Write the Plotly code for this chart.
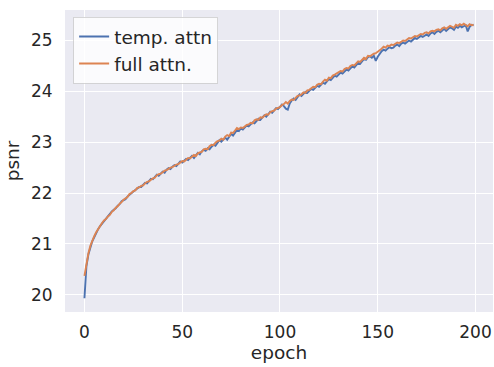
import plotly.graph_objects as go

epochs = list(range(200))

temp_attn = [
    19.93, 20.56, 20.79, 20.94, 21.05, 21.13, 21.22, 21.29, 21.35, 21.40,
    21.45, 21.50, 21.53, 21.58, 21.64, 21.67, 21.70, 21.75, 21.78, 21.84,
    21.86, 21.88, 21.93, 21.97, 22.01, 22.03, 22.06, 22.09, 22.12, 22.12,
    22.17, 22.20, 22.19, 22.24, 22.28, 22.27, 22.31, 22.36, 22.34, 22.39,
    22.42, 22.40, 22.46, 22.49, 22.47, 22.52, 22.55, 22.53, 22.58, 22.62,
    22.60, 22.64, 22.67, 22.65, 22.70, 22.73, 22.69, 22.75, 22.79, 22.76,
    22.82, 22.85, 22.83, 22.88, 22.86, 22.91, 22.95, 22.93, 22.99, 23.04,
    23.01, 23.06, 23.09, 23.05, 23.12, 23.16, 23.13, 23.20, 23.24, 23.22,
    23.27, 23.25, 23.30, 23.33, 23.31, 23.36, 23.39, 23.37, 23.42, 23.46,
    23.44, 23.49, 23.53, 23.50, 23.56, 23.60, 23.58, 23.63, 23.67, 23.65,
    23.70, 23.74, 23.71, 23.66, 23.64, 23.76, 23.82, 23.86, 23.83, 23.90,
    23.94, 23.91, 23.96, 23.99, 23.97, 24.02, 24.05, 24.03, 24.08, 24.11,
    24.09, 24.14, 24.17, 24.15, 24.20, 24.24, 24.22, 24.27, 24.31, 24.29,
    24.34, 24.37, 24.35, 24.40, 24.43, 24.41, 24.46, 24.49, 24.47, 24.52,
    24.56, 24.54, 24.60, 24.64, 24.62, 24.67, 24.69, 24.66, 24.70, 24.60,
    24.68, 24.75, 24.79, 24.82, 24.80, 24.84, 24.87, 24.85, 24.86, 24.90,
    24.92, 24.89, 24.94, 24.96, 24.94, 24.97, 25.00, 24.98, 25.02, 25.05,
    25.03, 25.06, 25.09, 25.07, 25.10, 25.12, 25.09, 25.14, 25.16, 25.13,
    25.17, 25.19, 25.16, 25.20, 25.23, 25.19, 25.22, 25.26, 25.24, 25.21,
    25.27, 25.25, 25.29, 25.26, 25.28, 25.30, 25.18, 25.27, 25.31, 25.30,
]

full_attn = [
    20.37, 20.63, 20.81, 20.96, 21.07, 21.15, 21.23, 21.30, 21.36, 21.41,
    21.46, 21.49, 21.54, 21.57, 21.63, 21.66, 21.71, 21.74, 21.79, 21.82,
    21.87, 21.90, 21.92, 21.98, 22.00, 22.04, 22.05, 22.10, 22.11, 22.14,
    22.15, 22.19, 22.22, 22.23, 22.27, 22.29, 22.30, 22.35, 22.37, 22.38,
    22.41, 22.44, 22.45, 22.48, 22.50, 22.51, 22.54, 22.56, 22.57, 22.60,
    22.63, 22.62, 22.66, 22.69, 22.68, 22.72, 22.75, 22.73, 22.78, 22.80,
    22.81, 22.86, 22.87, 22.86, 22.92, 22.95, 22.94, 22.99, 23.02, 23.03,
    23.07, 23.05, 23.11, 23.14, 23.12, 23.19, 23.18, 23.23, 23.28, 23.26,
    23.29, 23.28, 23.32, 23.34, 23.35, 23.38, 23.37, 23.43, 23.45, 23.44,
    23.49, 23.48, 23.52, 23.55, 23.54, 23.59, 23.61, 23.62, 23.66, 23.68,
    23.69, 23.73, 23.75, 23.79, 23.76, 23.81, 23.84, 23.83, 23.88, 23.91,
    23.92, 23.94, 23.98, 23.97, 24.02, 24.03, 24.06, 24.09, 24.08, 24.13,
    24.15, 24.14, 24.19, 24.23, 24.21, 24.27, 24.26, 24.31, 24.33, 24.35,
    24.38, 24.40, 24.39, 24.44, 24.46, 24.45, 24.50, 24.52, 24.51, 24.56,
    24.59, 24.58, 24.63, 24.66, 24.64, 24.70, 24.69, 24.72, 24.74, 24.75,
    24.79, 24.81, 24.84, 24.88, 24.86, 24.90, 24.89, 24.92, 24.91, 24.94,
    24.96, 24.95, 24.98, 25.00, 24.99, 25.03, 25.05, 25.04, 25.07, 25.09,
    25.08, 25.11, 25.13, 25.12, 25.15, 25.16, 25.14, 25.18, 25.19, 25.18,
    25.21, 25.22, 25.20, 25.24, 25.26, 25.23, 25.27, 25.29, 25.27, 25.25,
    25.31, 25.29, 25.32, 25.30, 25.33, 25.31, 25.28, 25.32, 25.30, 25.31,
]

x_ticks = [0, 50, 100, 150, 200]
y_ticks = [20, 21, 22, 23, 24, 25]

FONT = "DejaVu Sans"
TXT = "#262626"

fig = go.Figure()
fig.add_trace(go.Scatter(x=epochs, y=temp_attn, mode="lines", name="temp. attn",
                         line=dict(color="#4C72B0", width=1.9)))
fig.add_trace(go.Scatter(x=epochs, y=full_attn, mode="lines", name="full attn.",
                         line=dict(color="#DD8452", width=1.9)))

fig.update_layout(
    width=494, height=367,
    margin=dict(l=65, r=1, t=10, b=55, autoexpand=False),
    paper_bgcolor="white",
    plot_bgcolor="#EAEAF2",
    font=dict(family=FONT, size=17, color=TXT),
    showlegend=True,
    legend=dict(x=0.019, y=0.977, xanchor="left", yanchor="top",
                bgcolor="rgba(255,255,255,0.8)", bordercolor="rgba(204,204,204,0.8)",
                borderwidth=1, font=dict(family=FONT, size=18.5, color=TXT),
                tracegroupgap=0, itemwidth=30),
    xaxis=dict(range=[-9.95, 208.95], tickvals=x_ticks, showgrid=True, automargin=True,
               gridcolor="white", gridwidth=1.2, zeroline=False, showline=False,
               ticks="outside", ticklen=5, tickcolor="rgba(0,0,0,0)",
               tickfont=dict(family=FONT, size=17, color=TXT),
               title=dict(text="epoch", font=dict(family=FONT, size=18.5, color=TXT), standoff=4)),
    yaxis=dict(range=[19.66, 25.6], tickvals=y_ticks, showgrid=True, automargin=True,
               gridcolor="white", gridwidth=1.2, zeroline=False, showline=False,
               ticks="outside", ticklen=8, tickcolor="rgba(0,0,0,0)",
               tickfont=dict(family=FONT, size=17, color=TXT),
               title=dict(text="psnr", font=dict(family=FONT, size=18.5, color=TXT), standoff=6)),
)

fig.write_html("out.html", config={"responsive": False, "displayModeBar": False},
               post_script="document.body.style.margin='0';")
